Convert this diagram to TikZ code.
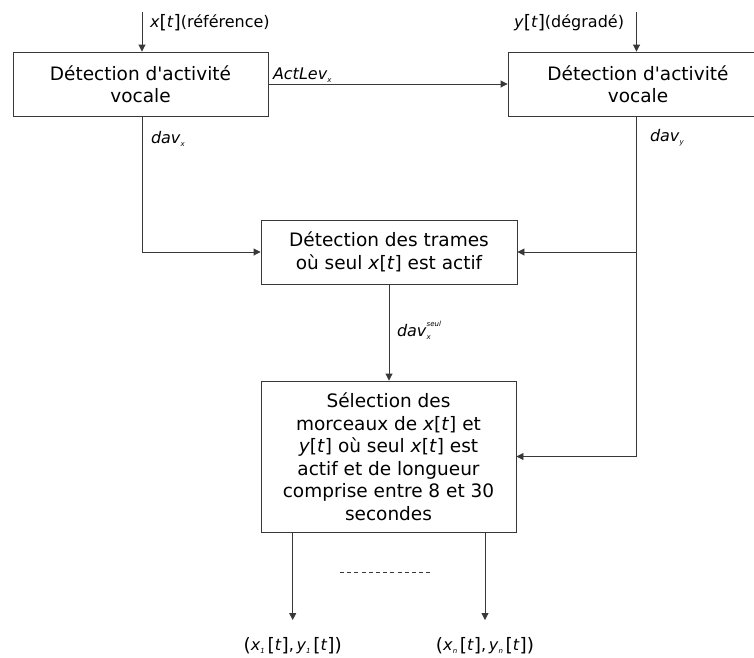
\documentclass[tikz,border=0pt]{standalone}
\usepackage{fontspec}
\setmainfont{DejaVu Sans}
\usetikzlibrary{arrows.meta}
\definecolor{lineColor}{gray}{0.22}
\newcommand{\lowidx}[1]{\raisebox{-0.45ex}{\fontsize{7}{7}\selectfont\itshape #1}}
\newcommand{\highidx}[1]{\raisebox{1.05ex}{\fontsize{7}{7}\selectfont\itshape #1}}
\newcommand{\tallsym}[1]{\raisebox{-0.12ex}{\fontsize{18.5}{18.5}\selectfont #1}}

\tikzset{
  block/.style={draw=lineColor,line width=0.9pt,fill=white,align=center,
    inner sep=0pt,font=\fontsize{18.5}{22.5}\selectfont},
  flow/.style={draw=lineColor,line width=0.9pt,-{Triangle[length=7pt,width=7pt]}},
  plain/.style={draw=lineColor,line width=0.9pt},
  lbl/.style={inner sep=0pt,outer sep=0pt,font=\fontsize{16}{19}\selectfont},
}

\begin{document}
\begin{tikzpicture}[x=1pt,y=-1pt]
\path[use as bounding box,fill=white] (0,0) rectangle (754,657);

\node[block,minimum width=255pt,minimum height=64pt] (vadX) at (140.5,84) {Détection d\textquotesingle activité\\vocale};
\node[block,minimum width=260pt,minimum height=64pt] (vadY) at (638,84) {Détection d\textquotesingle activité\\vocale};
\node[block,minimum width=256pt,minimum height=64pt] (seulX) at (389,252) {Détection des trames\\où seul \textit{x}[\textit{t}] est actif};
\node[block,minimum width=255pt,minimum height=151pt] (selec) at (388.5,456.5) {Sélection des\\morceaux de \textit{x}[\textit{t}] et\\\textit{y}[\textit{t}] où seul \textit{x}[\textit{t}] est\\actif et de longueur\\comprise entre 8 et 30\\secondes};

\coordinate (inX) at (142,12);
\coordinate (inY) at (636.5,12);
\coordinate (out1) at (292.7,620);
\coordinate (outN) at (485,620);
\coordinate (dotA) at (340,572.5);
\coordinate (dotB) at (433,572.5);

\draw[flow] (inX) -- (inX |- vadX.north);
\draw[flow] (inY) -- (inY |- vadY.north);
\draw[flow] (vadX.east) -- (vadY.west);
\draw[flow] (inX |- vadX.south) |- (seulX.west);
\draw[plain] (inY |- vadY.south) -- (inY |- selec.east);
\draw[flow] (inY |- seulX.east) -- (seulX.east);
\draw[flow] (inY |- selec.east) -- (selec.east);
\draw[flow] (seulX.south) -- (seulX.south |- selec.north);
\draw[flow] (out1 |- selec.south) -- (out1);
\draw[flow] (outN |- selec.south) -- (outN);
\draw[plain,line width=0.7pt,dash pattern=on 4pt off 3.2pt] (dotA) -- (dotB);

\node[lbl,anchor=base west] (labX) at (150,27) {\textit{x}\tallsym{[}\textit{t}\tallsym{]}(référence)};
\node[lbl,anchor=base east] (labY) at (624,27) {\textit{y}\tallsym{[}\textit{t}\tallsym{]}(dégradé)};
\node[lbl,anchor=base west] (labAct) at (273,79) {\textit{ActLev}\lowidx{x}};
\node[lbl,anchor=base west] (labDavX) at (151,143) {\textit{dav}\lowidx{x}};
\node[lbl,anchor=base west] (labDavY) at (650,141) {\textit{dav}\lowidx{y}};
\node[lbl,anchor=base west] (labSeul) at (397,336) {\textit{dav}\makebox[0pt][l]{\lowidx{x}}\highidx{seul}};
\node[lbl,anchor=base] (res1) at ([yshift=-30pt]out1) {\tallsym{(}\textit{x}\lowidx{1}\,\tallsym{[}\textit{t}\tallsym{]},\,\textit{y}\lowidx{1}\,\tallsym{[}\textit{t}\tallsym{]}\tallsym{)}};
\node[lbl,anchor=base] (resN) at ([yshift=-30pt]outN) {\tallsym{(}\textit{x}\lowidx{n}\,\tallsym{[}\textit{t}\tallsym{]},\,\textit{y}\lowidx{n}\,\tallsym{[}\textit{t}\tallsym{]}\tallsym{)}};
\end{tikzpicture}
\end{document}
